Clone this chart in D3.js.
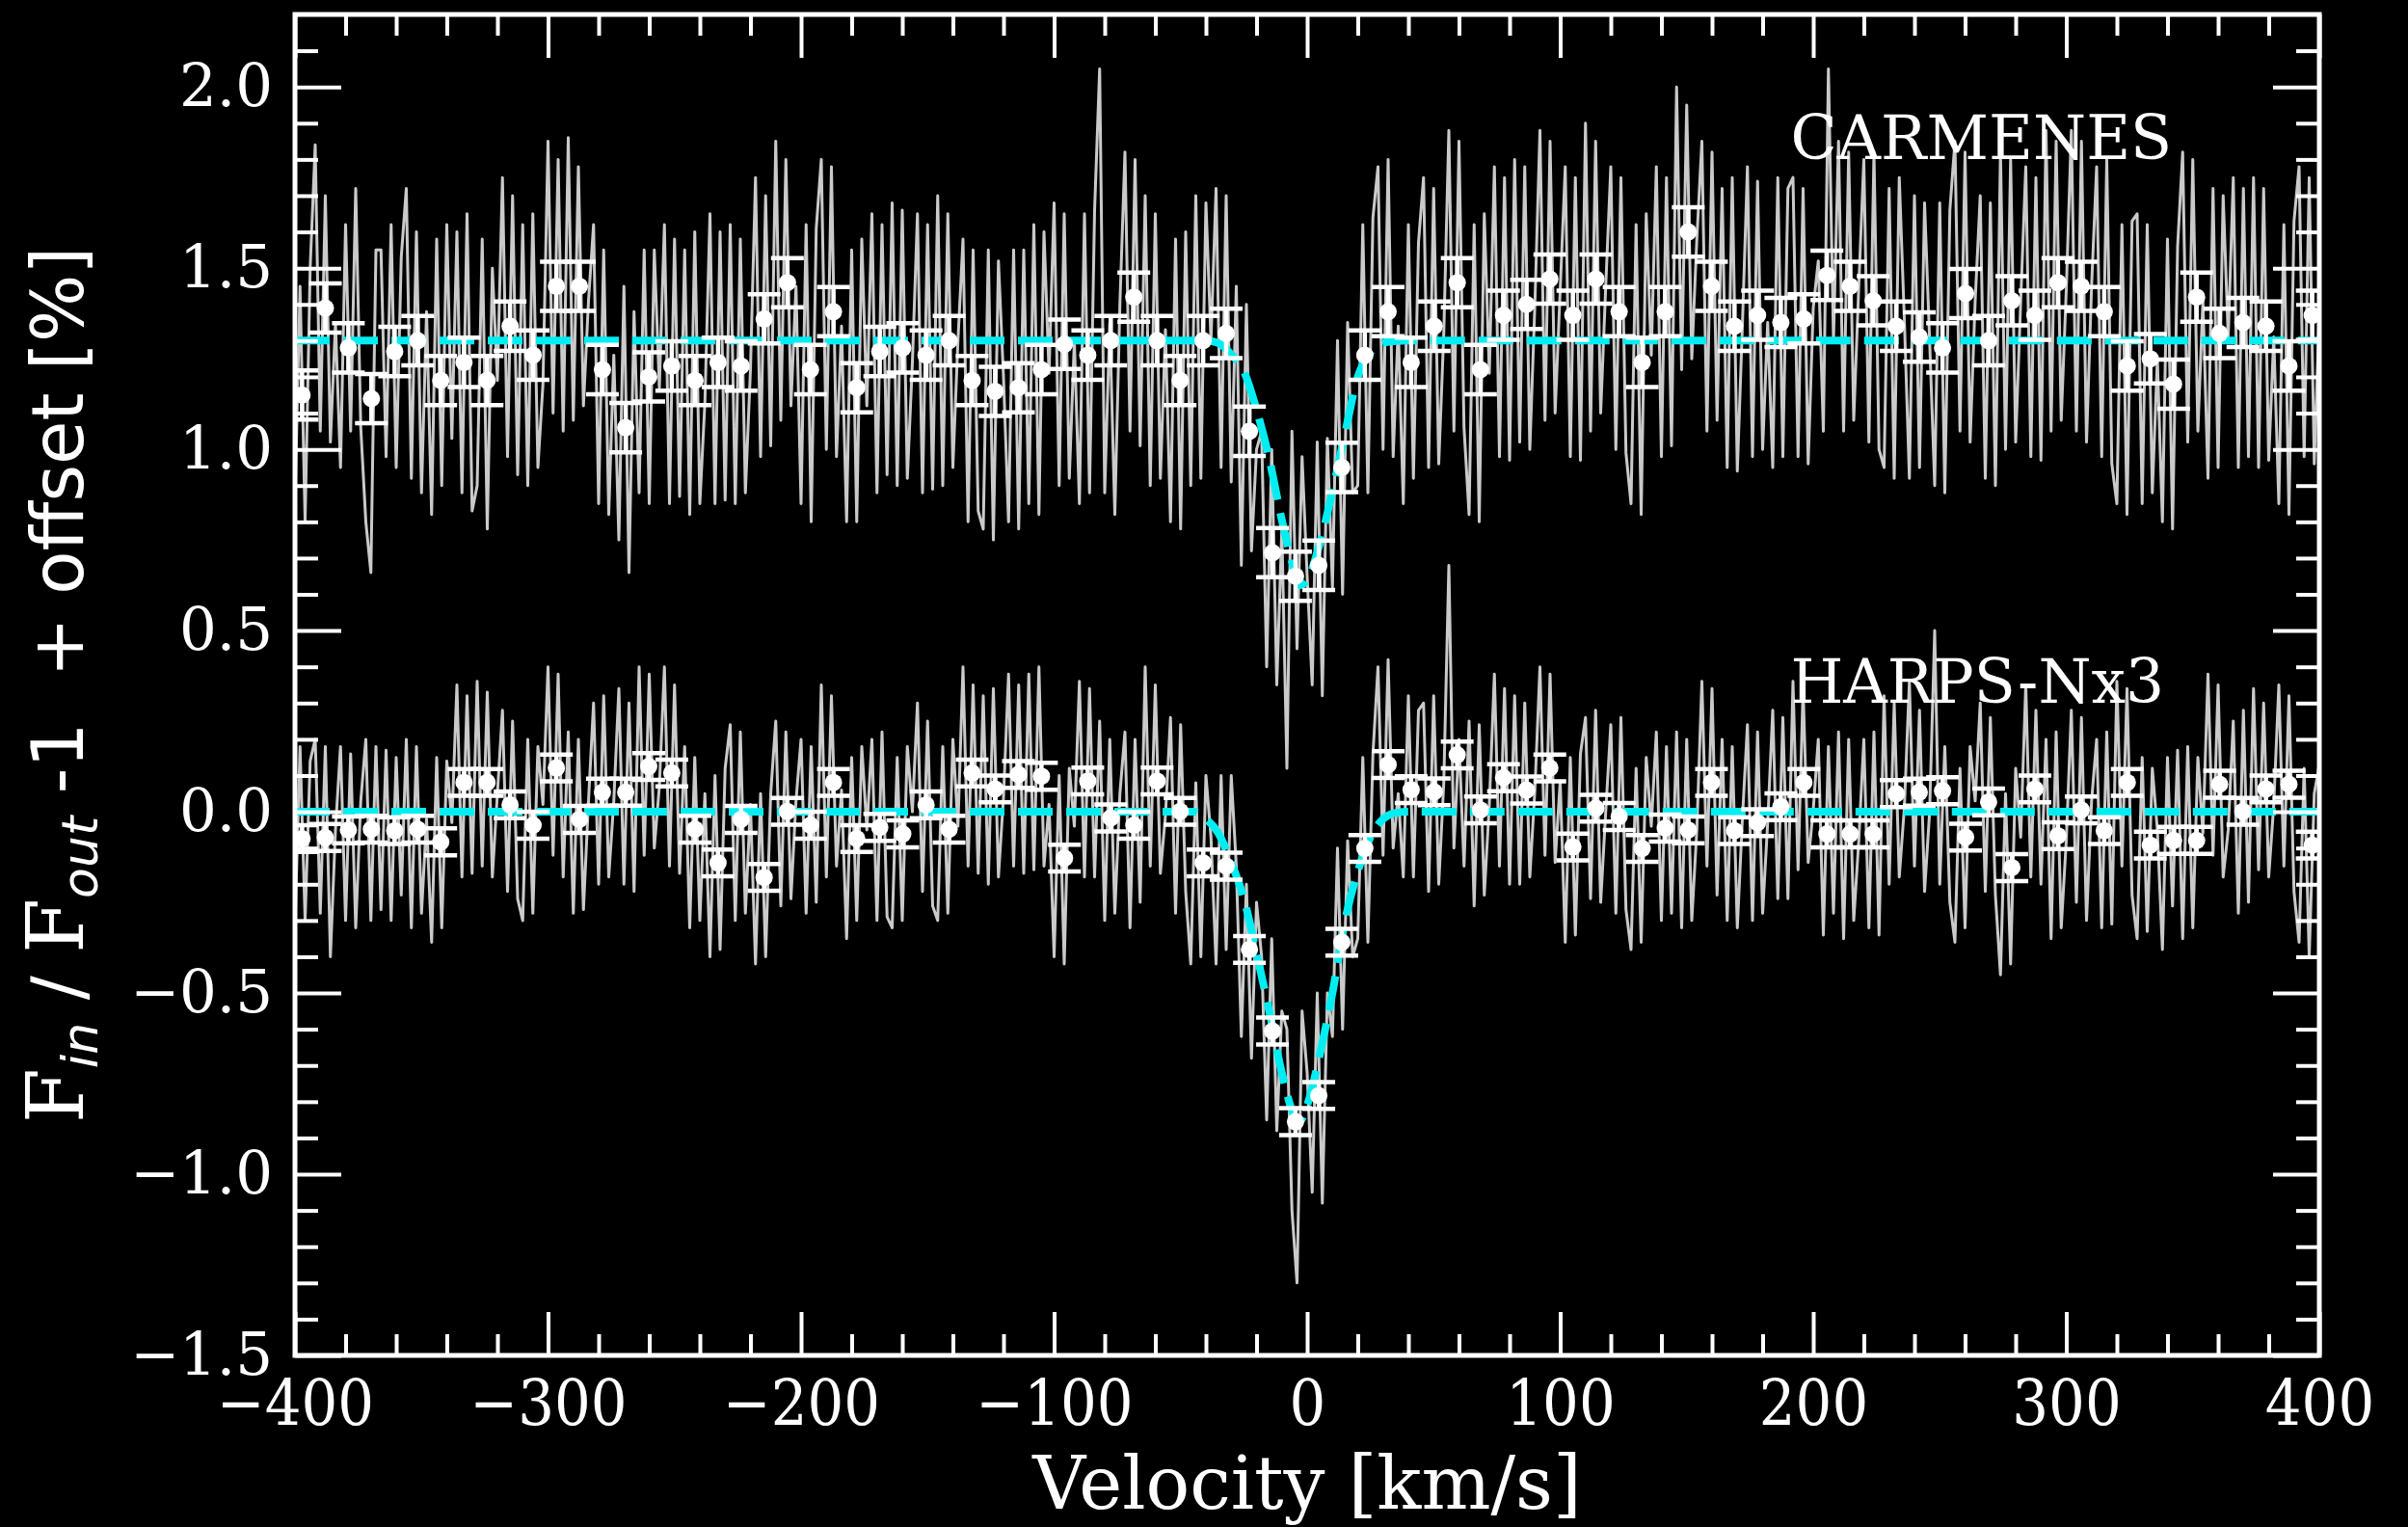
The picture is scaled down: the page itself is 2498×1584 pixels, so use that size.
<!DOCTYPE html>
<html><head><meta charset="utf-8">
<script src="https://cdn.jsdelivr.net/npm/d3@7"></script>
<style>html,body{margin:0;padding:0;background:#000;} svg{display:block;}</style>
</head><body>
<svg id="chart" width="2498" height="1584"></svg>
<script>
// ---------------- data ----------------
const xTicks = [-400, -300, -200, -100, 0, 100, 200, 300, 400];
const yTicks = [-1.5, -1.0, -0.5, 0.0, 0.5, 1.0, 1.5, 2.0];
const seriesLabels = ["CARMENES", "HARPS-Nx3"];
const labelPos = [[191, 1.80], [191, 0.30]];   // [velocity, value] of each label

// native spectrum pixel grid (km/s)
const specGrid = d3.range(-400, 401, 2);
const carmSpec = [
0.85,1.45,0.80,1.50,1.84,1.05,1.70,1.02,1.35,0.95,
1.62,1.05,1.72,1.06,0.80,0.66,1.55,1.55,0.98,1.62,
0.95,1.53,1.72,0.92,1.60,0.88,1.38,0.82,1.58,0.90,
1.62,1.03,1.60,0.88,1.65,0.83,0.90,1.58,0.78,1.50,
1.19,1.75,0.98,1.70,0.93,1.62,0.90,1.65,0.95,1.18,
1.85,1.10,1.80,1.05,1.86,1.08,1.78,1.12,1.41,1.62,
0.85,1.55,0.82,1.26,0.75,1.45,0.66,1.38,0.88,1.55,
0.85,1.55,1.17,1.62,0.85,1.58,0.87,1.55,0.82,1.60,
0.85,1.13,1.65,0.85,1.60,0.86,1.62,0.85,1.58,0.88,
1.22,1.75,0.98,1.70,1.01,1.85,1.08,1.80,1.12,1.45,
0.85,1.62,0.80,1.61,1.80,1.00,1.78,0.98,1.34,0.80,
1.55,0.80,1.58,1.12,1.65,0.88,1.62,0.93,1.68,0.90,
1.66,0.92,1.24,1.65,0.88,1.62,0.89,1.70,0.90,1.65,
0.95,1.30,1.58,0.80,1.55,0.83,0.78,1.55,0.75,1.52,
1.20,0.80,1.55,0.78,1.55,0.85,1.62,0.82,1.60,1.21,
1.68,0.90,1.65,0.92,1.30,0.85,1.65,0.88,1.66,2.05,
0.88,1.35,0.82,1.40,1.82,1.05,1.80,1.01,1.70,0.90,
1.65,0.92,1.33,0.80,1.58,0.78,1.60,0.90,1.70,0.92,
1.68,1.30,1.72,0.95,1.70,0.91,1.45,0.68,1.40,0.72,
1.00,1.05,0.40,1.00,0.35,0.78,0.12,1.05,0.45,0.98,
0.65,0.35,1.02,0.32,1.03,0.62,1.30,0.60,1.35,0.88,
0.90,1.62,0.88,1.64,1.78,1.00,1.80,0.98,1.34,0.85,
1.62,0.92,1.57,1.75,0.95,1.72,0.96,1.32,1.88,1.05,
1.85,1.06,0.82,1.62,0.80,1.65,1.21,1.78,0.98,1.75,
0.97,1.80,1.02,1.78,1.00,1.40,1.88,1.08,1.85,1.10,
1.44,1.78,0.98,1.75,0.97,1.90,1.05,1.85,1.10,1.45,
1.78,1.00,1.75,0.99,0.85,1.62,0.82,1.65,1.26,1.78,
0.98,1.75,1.01,2.00,1.22,1.95,1.25,1.58,1.85,1.05,
1.82,1.08,1.72,0.95,1.75,0.94,1.34,1.78,0.98,1.74,
1.00,1.35,0.95,1.75,0.98,1.72,1.75,0.98,1.72,0.96,
1.39,1.52,1.05,2.05,1.30,1.85,1.05,1.82,1.08,1.45,
1.80,1.02,1.82,1.00,0.95,1.72,0.92,1.75,1.36,0.92,
1.70,0.95,1.68,1.30,0.90,1.68,0.88,1.66,1.85,1.05,
1.82,1.02,1.41,1.70,0.92,1.68,0.90,1.82,1.00,1.80,
1.02,1.41,1.78,0.98,1.75,0.97,1.88,1.05,1.85,1.08,
1.44,1.88,1.05,1.85,1.02,1.45,1.78,0.98,1.80,0.96,
0.85,1.62,0.82,1.63,1.65,0.85,1.62,0.88,1.25,0.80,
1.58,0.78,1.56,1.82,1.02,1.80,1.05,1.41,0.92,1.72,
0.95,1.70,1.31,1.75,0.95,1.72,0.98,1.75,0.95,1.72,
0.97,1.31,0.85,1.62,0.82,1.63,1.78,0.98,1.75,0.96,
1.38];
const harpsSpec = [
-0.32,0.18,-0.30,0.14,0.20,-0.28,0.18,-0.40,-0.05,0.18,
-0.30,0.16,-0.32,0.03,0.20,-0.30,0.18,-0.27,0.17,-0.30,
0.15,-0.23,0.20,-0.32,0.18,-0.28,-0.02,-0.36,0.15,-0.32,
0.14,-0.03,0.35,-0.18,0.32,-0.17,0.36,-0.15,0.33,-0.18,
0.05,0.28,-0.22,0.25,-0.24,-0.30,0.20,-0.28,0.18,0.02,
0.40,-0.12,0.38,-0.18,0.22,-0.28,0.20,-0.27,0.03,0.30,
-0.20,0.32,-0.18,0.03,0.34,-0.20,0.30,-0.22,0.40,-0.12,
0.38,-0.10,0.07,0.40,-0.15,0.35,-0.17,0.18,-0.32,0.15,
-0.30,0.05,-0.40,0.10,-0.38,0.12,0.24,-0.30,0.22,-0.28,
0.02,-0.42,0.05,-0.40,0.05,0.25,-0.26,0.22,-0.24,0.03,
0.20,-0.28,0.18,-0.25,0.35,-0.18,0.32,-0.15,0.06,-0.35,
0.15,-0.30,0.18,-0.05,0.20,-0.30,0.22,-0.29,-0.32,0.15,
-0.30,0.18,0.00,0.30,-0.22,0.25,-0.26,-0.30,0.18,-0.28,
0.20,-0.04,0.40,-0.15,0.35,-0.17,0.32,-0.20,0.34,-0.18,
0.04,0.38,-0.15,0.35,-0.17,0.38,-0.16,0.40,-0.15,0.02,
-0.40,0.10,-0.42,0.12,-0.04,0.36,-0.18,0.34,-0.18,0.25,
-0.30,0.20,-0.28,0.05,0.22,-0.32,0.20,-0.25,0.40,-0.15,
0.35,-0.17,-0.01,0.26,-0.28,0.24,-0.22,-0.42,0.08,-0.40,
0.10,-0.07,-0.42,0.10,-0.38,0.10,-0.15,-0.62,-0.20,-0.68,
-0.25,-0.40,-0.85,-0.35,-0.88,-0.55,-0.60,-1.10,-1.30,-0.55,
-0.72,-1.05,-0.50,-1.08,-0.50,-0.62,-0.10,-0.60,-0.08,-0.40,
-0.35,0.15,-0.36,0.16,0.40,-0.12,0.42,-0.10,0.05,-0.18,
0.32,-0.18,0.28,0.30,-0.22,0.32,-0.20,0.08,0.68,-0.10,
0.20,-0.15,0.25,-0.26,0.24,-0.23,0.02,0.38,-0.15,0.34,
-0.20,0.32,-0.20,0.30,-0.18,0.06,0.40,-0.12,0.38,-0.14,
0.085,-0.36,0.15,-0.34,0.16,0.26,-0.24,0.28,-0.25,0.00,
0.24,-0.28,0.26,-0.27,-0.38,0.12,-0.36,0.15,-0.04,0.22,
-0.30,0.18,-0.28,0.22,-0.32,0.20,-0.30,-0.05,0.36,-0.15,
0.34,-0.23,0.20,-0.30,0.18,-0.32,-0.02,0.24,-0.30,0.22,
-0.28,-0.03,0.28,-0.24,0.26,-0.24,0.36,-0.16,0.34,-0.14,
0.005,0.20,-0.34,0.18,-0.28,0.22,-0.35,0.20,-0.30,-0.08,
0.20,-0.32,0.22,-0.34,0.32,-0.20,0.30,-0.18,0.01,0.36,
-0.15,0.28,-0.22,0.00,0.50,-0.20,0.18,-0.25,-0.36,0.12,
-0.32,0.18,0.03,0.30,-0.22,0.26,-0.23,-0.45,0.05,-0.42,
0.12,-0.07,0.35,-0.18,0.28,-0.20,0.20,-0.35,0.22,-0.32,
-0.08,0.28,-0.25,0.26,-0.30,0.03,0.20,-0.32,0.22,-0.31,
0.36,-0.15,0.34,-0.23,-0.35,0.15,-0.33,0.12,-0.05,-0.38,
0.15,-0.26,0.17,-0.35,0.18,-0.32,0.15,-0.06,0.38,-0.12,
0.35,-0.18,-0.05,0.25,-0.28,0.28,-0.25,0.34,-0.16,0.30,
-0.18,0.02,0.35,-0.15,0.32,-0.22,-0.36,0.12,-0.40,0.05,
0.13];

// binned points (km/s)
const binVel = [
-397.2,-388.0,-378.9,-369.8,-360.6,-351.5,-342.4,-333.2,-324.1,-315.0,
-305.9,-296.7,-287.6,-278.5,-269.3,-260.2,-251.1,-241.9,-232.8,-223.7,
-214.6,-205.4,-196.3,-187.2,-178.0,-168.9,-159.8,-150.6,-141.5,-132.4,
-123.3,-114.1,-105.0,-95.9,-86.7,-77.6,-68.5,-59.3,-50.2,-41.1,
-32.0,-22.8,-13.7,-4.6,4.6,13.7,22.8,32.0,41.1,50.2,
59.3,68.5,77.6,86.7,95.9,105.0,114.1,123.3,132.4,141.5,
150.6,159.8,168.9,178.0,187.2,196.3,205.4,214.6,223.7,232.8,
241.9,251.1,260.2,269.3,278.5,287.6,296.7,305.9,315.0,324.1,
333.2,342.4,351.5,360.6,369.8,378.9,388.0,397.2];
const carmBin = [
1.15,1.39,1.28,1.14,1.27,1.30,1.19,1.24,1.19,1.34,
1.26,1.45,1.45,1.22,1.06,1.20,1.23,1.19,1.24,1.23,
1.36,1.46,1.22,1.38,1.17,1.27,1.28,1.26,1.30,1.19,
1.16,1.17,1.22,1.29,1.26,1.30,1.42,1.30,1.19,1.30,
1.32,1.05,0.715,0.65,0.68,0.95,1.26,1.38,1.24,1.34,
1.46,1.22,1.37,1.40,1.47,1.37,1.47,1.38,1.24,1.38,
1.60,1.45,1.34,1.37,1.35,1.36,1.48,1.45,1.41,1.34,
1.31,1.28,1.43,1.30,1.41,1.37,1.46,1.45,1.38,1.23,
1.25,1.18,1.42,1.32,1.35,1.34,1.23,1.37];
const harpsBin = [
-0.074,-0.071,-0.050,-0.048,-0.052,-0.048,-0.083,0.081,0.081,0.019,
-0.037,0.121,-0.021,0.054,0.054,0.125,0.107,-0.048,-0.141,-0.021,
-0.181,0.001,-0.037,0.081,-0.074,-0.043,-0.061,0.019,-0.048,0.107,
0.063,0.103,0.098,-0.128,0.085,-0.017,-0.037,0.085,0.001,-0.141,
-0.150,-0.380,-0.605,-0.855,-0.783,-0.360,-0.101,0.130,0.061,0.055,
0.157,0.005,0.094,0.060,0.121,-0.097,0.010,-0.013,-0.101,-0.045,
-0.050,0.081,-0.052,-0.030,0.014,0.081,-0.061,-0.061,-0.061,0.050,
0.054,0.058,-0.070,0.027,-0.154,0.063,-0.066,0.005,-0.052,0.081,
-0.092,-0.079,-0.079,0.076,0.001,0.063,0.076,-0.092];
const binErr = [0.068, 0.037];   // CARMENES, HARPS-N

// fitted absorption profiles
const fitVel   = [-400,-45,-40,-35,-30,-25,-20,-15,-10,-5,-3,0,5,10,15,20,25,30,35,40,45,400];
const carmFit  = [1.30,1.30,1.300,1.293,1.262,1.215,1.110,0.975,0.805,0.665,0.625,0.640,0.740,0.885,1.045,1.200,1.268,1.294,1.299,1.300,1.30,1.30];
const harpsFit = [0,0,-0.020,-0.060,-0.140,-0.240,-0.390,-0.550,-0.720,-0.840,-0.855,-0.810,-0.670,-0.500,-0.300,-0.165,-0.070,-0.020,-0.003,0,0,0];

// ---------------- drawing ----------------
const svg = d3.select("#chart");
svg.append("rect").attr("width", 2498).attr("height", 1584).attr("fill", "#000");

const L = 306, R = 2406, T = 15, B = 1406;
const x = d3.scaleLinear().domain([-400, 400]).range([L, R]);
const y = d3.scaleLinear().domain([-1.5, 2.2]).range([B, T]);

svg.append("clipPath").attr("id", "clip")
  .append("rect").attr("x", L).attr("y", T).attr("width", R - L).attr("height", B - T);
const inner = svg.append("g").attr("clip-path", "url(#clip)");

const specLine = d3.line().x((d, i) => x(specGrid[i])).y(d => y(d));
[carmSpec, harpsSpec].forEach(s => {
  inner.append("path").datum(s).attr("d", specLine)
    .attr("fill", "none").attr("stroke", "#cacaca").attr("stroke-width", 3)
    .attr("stroke-linejoin", "round");
});

const fitLine = d3.line().x((d, i) => x(fitVel[i])).y(d => y(d)).curve(d3.curveMonotoneX);
[carmFit, harpsFit].forEach(s => {
  inner.append("path").datum(s).attr("d", fitLine)
    .attr("fill", "none").attr("stroke", "#00eef2").attr("stroke-width", 8)
    .attr("stroke-dasharray", "36,14");
});

const cap = 17;
[carmBin, harpsBin].forEach((s, k) => {
  const g = inner.append("g");
  const e = binErr[k];
  const pts = s.map((v, i) => ({vx: binVel[i], v}));
  g.selectAll(".eb").data(pts).join("path")
    .attr("d", d => {
      const cx = x(d.vx), y1 = y(d.v + e), y0 = y(d.v - e);
      return `M${cx},${y1}V${y0}M${cx - cap},${y1}H${cx + cap}M${cx - cap},${y0}H${cx + cap}`;
    })
    .attr("fill", "none").attr("stroke", "#fff").attr("stroke-width", 4.5);
  g.selectAll("circle").data(pts).join("circle")
    .attr("cx", d => x(d.vx)).attr("cy", d => y(d.v)).attr("r", 9).attr("fill", "#fff");
});

// series labels
seriesLabels.forEach((t, i) => {
  svg.append("text").attr("x", x(labelPos[i][0])).attr("y", y(labelPos[i][1]))
    .attr("fill", "#fff").attr("font-family", "DejaVu Serif").attr("font-size", 63).text(t);
});

// axes
const xMinor = d3.range(-400, 401, 20).filter(v => v % 100 !== 0);
const yMinor = d3.range(-15, 23).map(k => k / 10).filter(v => Math.abs(Math.round(v * 10)) % 5 !== 0 && v < 2.2);

function styleAxis(g) {
  g.select(".domain").remove();
  g.selectAll(".tick line").attr("stroke", "#fff").attr("stroke-width", 4);
}
const ax = svg.append("g");
ax.append("g").attr("transform", `translate(0,${B})`)
  .call(d3.axisBottom(x).tickValues(xTicks).tickSize(-45).tickPadding(25).tickFormat(d3.format("d")))
  .call(styleAxis)
  .selectAll("text").attr("fill", "#fff").attr("font-size", 66)
  .attr("font-family", "'DejaVu Serif Condensed', 'DejaVu Serif'").style("font-stretch", "condensed");
ax.append("g").attr("transform", `translate(0,${B})`)
  .call(d3.axisBottom(x).tickValues(xMinor).tickSize(-22).tickFormat(""))
  .call(styleAxis);
ax.append("g").attr("transform", `translate(0,${T})`)
  .call(d3.axisTop(x).tickValues(xTicks).tickSize(-45).tickFormat(""))
  .call(styleAxis);
ax.append("g").attr("transform", `translate(0,${T})`)
  .call(d3.axisTop(x).tickValues(xMinor).tickSize(-22).tickFormat(""))
  .call(styleAxis);
ax.append("g").attr("transform", `translate(${L},0)`)
  .call(d3.axisLeft(y).tickValues(yTicks).tickSize(-48).tickPadding(23).tickFormat(d3.format(".1f")))
  .call(styleAxis)
  .selectAll("text").attr("fill", "#fff").attr("font-size", 61).attr("font-family", "DejaVu Serif");
ax.append("g").attr("transform", `translate(${L},0)`)
  .call(d3.axisLeft(y).tickValues(yMinor).tickSize(-24).tickFormat(""))
  .call(styleAxis);
ax.append("g").attr("transform", `translate(${R},0)`)
  .call(d3.axisRight(y).tickValues(yTicks).tickSize(-48).tickFormat(""))
  .call(styleAxis);
ax.append("g").attr("transform", `translate(${R},0)`)
  .call(d3.axisRight(y).tickValues(yMinor).tickSize(-24).tickFormat(""))
  .call(styleAxis);

svg.append("rect").attr("x", L).attr("y", T).attr("width", R - L).attr("height", B - T)
  .attr("fill", "none").attr("stroke", "#fff").attr("stroke-width", 5);

// axis titles
svg.append("text").attr("x", (L + R) / 2).attr("y", 1565).attr("text-anchor", "middle")
  .attr("fill", "#fff").attr("font-family", "DejaVu Serif").attr("font-size", 76)
  .text("Velocity [km/s]");

const yt = svg.append("text").attr("transform", `translate(86,${(T + B) / 2}) rotate(-90)`)
  .attr("text-anchor", "middle").attr("fill", "#fff").attr("font-family", "DejaVu Sans")
  .attr("font-size", 74).style("white-space", "pre");
yt.append("tspan").attr("font-family", "DejaVu Serif").attr("font-size", 82).text("F");
yt.append("tspan").attr("font-size", 52).attr("font-style", "italic").attr("dy", 15).text("in");
yt.append("tspan").attr("dy", -15).text(" / ");
yt.append("tspan").attr("font-family", "DejaVu Serif").attr("font-size", 82).text("F");
yt.append("tspan").attr("font-size", 52).attr("font-style", "italic").attr("dy", 15).text("out");
yt.append("tspan").attr("dy", -15).text(" -1  + offset [%]");
</script>
</body></html>
